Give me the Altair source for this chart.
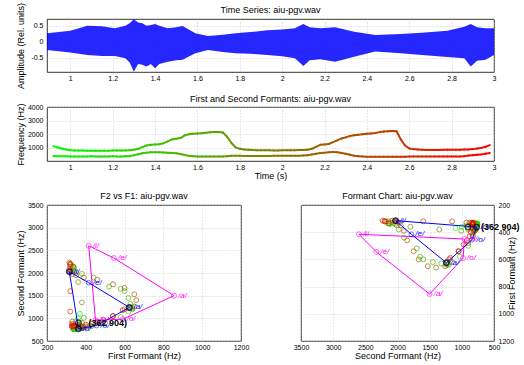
import altair as alt
import pandas as pd

# ---------------- data ----------------
T = [0.92, 0.94, 0.96, 0.98, 1.00, 1.02, 1.04, 1.06, 1.08, 1.10,
     1.12, 1.14, 1.16, 1.18, 1.20, 1.22, 1.24, 1.26, 1.28, 1.30,
     1.32, 1.34, 1.36, 1.38, 1.40, 1.42, 1.44, 1.46, 1.48, 1.50,
     1.52, 1.54, 1.56, 1.58, 1.60, 1.62, 1.64, 1.66, 1.68, 1.70,
     1.72, 1.74, 1.76, 1.78, 1.80, 1.82, 1.84, 1.86, 1.88, 1.90,
     1.92, 1.94, 1.96, 1.98, 2.00, 2.02, 2.04, 2.06, 2.08, 2.10,
     2.12, 2.14, 2.16, 2.18, 2.20, 2.22, 2.24, 2.26, 2.28, 2.30,
     2.32, 2.34, 2.36, 2.38, 2.40, 2.42, 2.44, 2.46, 2.48, 2.50,
     2.52, 2.54, 2.56, 2.58, 2.60, 2.62, 2.64, 2.66, 2.68, 2.70,
     2.72, 2.74, 2.76, 2.78, 2.80, 2.82, 2.84, 2.86, 2.88, 2.90,
     2.92, 2.94, 2.96, 2.98]

F2 = [1100, 1000, 930, 850, 790, 780, 770, 770, 760, 760,
      760, 760, 760, 765, 770, 770, 775, 780, 800, 830,
      900, 1030, 1150, 1200, 1220, 1240, 1320, 1450, 1600, 1650,
      1700, 1900, 1980, 2010, 2030, 2060, 2100, 2130, 2140, 2150,
      2120, 1800, 1350, 1010, 900, 860, 830, 810, 800, 790,
      790, 790, 785, 785, 790, 790, 795, 800, 810, 820,
      830, 900, 1050, 1200, 1230, 1260, 1400, 1530, 1670, 1750,
      1850, 1900, 1950, 1980, 2010, 2040, 2080, 2140, 2180, 2200,
      2230, 2200, 1600, 1150, 930, 880, 850, 830, 820, 820,
      820, 820, 825, 830, 830, 835, 840, 850, 860, 880,
      920, 970, 1050, 1180]

F1 = [370, 360, 350, 345, 340, 340, 335, 340, 340, 345,
      340, 340, 335, 340, 345, 340, 340, 345, 360, 420,
      500, 580, 620, 640, 640, 640, 630, 620, 600, 580,
      520, 440, 380, 350, 340, 335, 330, 335, 335, 335,
      340, 360, 380, 390, 380, 370, 370, 370, 365, 370,
      370, 375, 380, 380, 385, 385, 385, 390, 390, 400,
      430, 480, 540, 600, 620, 650, 660, 650, 600, 540,
      460, 390, 350, 330, 320, 320, 315, 320, 320, 320,
      315, 320, 320, 320, 330, 330, 330, 330, 330, 330,
      340, 340, 340, 340, 340, 340, 340, 360, 400, 430,
      460, 490, 540, 590]

# waveform envelope (upper / lower peaks)
ENV_T = [0.89, 1.00, 1.08, 1.15, 1.21, 1.26, 1.28, 1.30, 1.32, 1.34,
         1.36, 1.38, 1.40, 1.42, 1.46, 1.50, 1.53, 1.59, 1.65, 1.72,
         1.78, 1.85, 1.93, 2.00, 2.06, 2.10, 2.13, 2.18, 2.25, 2.34,
         2.44, 2.56, 2.66, 2.78, 2.86, 2.89, 2.92, 2.96, 3.00]
ENV_HI = [0.26, 0.34, 0.50, 0.48, 0.42, 0.50, 0.58, 0.70, 0.60, 0.58,
          0.50, 0.52, 0.55, 0.50, 0.42, 0.45, 0.49, 0.26, 0.18, 0.22,
          0.26, 0.30, 0.36, 0.38, 0.42, 0.55, 0.45, 0.42, 0.45, 0.31,
          0.21, 0.24, 0.28, 0.34, 0.47, 0.55, 0.45, 0.42, 0.42]
ENV_LO = [-0.26, -0.34, -0.42, -0.45, -0.45, -0.52, -0.65, -0.94, -0.70, -0.72,
          -0.78, -0.70, -0.83, -0.70, -0.63, -0.58, -0.57, -0.36, -0.26, -0.32,
          -0.36, -0.38, -0.42, -0.46, -0.52, -0.76, -0.58, -0.55, -0.63, -0.47,
          -0.31, -0.36, -0.42, -0.48, -0.52, -0.78, -0.60, -0.57, -0.42]

# reference vowel polygon (magenta) and measured polygon (blue)
MAG_LAB = ["/i/", "/e/", "/a/", "/o/", "/u/"]
MAG_F1 = [415, 545, 855, 590, 450]
MAG_F2 = [2600, 2330, 1500, 980, 960]
BLU_LAB = ["/i/", "/e/", "/a/", "/o/", "/u/"]
BLU_F1 = [315, 415, 625, 455, 362]
BLU_F2 = [2030, 1785, 1240, 840, 770]
KEY_F1 = [315, 625, 362, 362]
KEY_F2 = [2030, 1240, 904, 770]
NOTE_LAB = ["(362 904)"]
NOTE_F1 = [362]
NOTE_F2 = [904]

TITLES = ["Time Series: aiu-pgv.wav", "First and Second Formants: aiu-pgv.wav",
          "F2 vs F1: aiu-pgv.wav", "Formant Chart: aiu-pgv.wav"]
TIME_TICKS = [1, 1.2, 1.4, 1.6, 1.8, 2, 2.2, 2.4, 2.6, 2.8, 3]
AMP_TICKS = [-0.5, 0, 0.5]
FREQ_TICKS = [1000, 2000, 3000, 4000]
F1_TICKS = [200, 400, 600, 800, 1000, 1200]
F2_TICKS = [500, 1000, 1500, 2000, 2500, 3000, 3500]

FONT = "Liberation Sans"
cscale = alt.Scale(domain=[0.92, 2.98], range=["#00ff00", "#ff0000"], interpolate="rgb")

# ---------------- tables ----------------
env = pd.DataFrame({"t": ENV_T, "hi": ENV_HI, "lo": ENV_LO})
fm = pd.DataFrame({"t": T, "f1": F1, "f2": F2})

segs = []
for col in ["f1", "f2"]:
    d = pd.DataFrame({"t": fm["t"], "t2": fm["t"].shift(-1),
                      "f": fm[col], "fn": fm[col].shift(-1)})
    d = d.dropna()
    d["tm"] = (d["t"] + d["t2"]) / 2
    segs.append(d)
seg = pd.concat(segs, ignore_index=True)

mag = pd.DataFrame({"lab": MAG_LAB, "f1": MAG_F1, "f2": MAG_F2})
mag_path = pd.concat([mag, mag.iloc[:1]], ignore_index=True)
mag_path["seq"] = range(len(mag_path))
blu = pd.DataFrame({"lab": BLU_LAB, "f1": BLU_F1, "f2": BLU_F2})
blu_path = pd.concat([blu, blu.iloc[:1]], ignore_index=True)
blu_path["seq"] = range(len(blu_path))
key = pd.DataFrame({"f1": KEY_F1, "f2": KEY_F2})
note = pd.DataFrame({"lab": NOTE_LAB, "f1": NOTE_F1, "f2": NOTE_F2})


def yaxis(title, values, fmt="d", orient="left", angle=None):
    kw = dict(title=title, values=values, format=fmt, orient=orient,
              labelPadding=4, titlePadding=3, minExtent=19, maxExtent=19,
              labelExpr="replace(datum.label, '\u2212', '-')")
    if angle is not None:
        kw["titleAngle"] = angle
    return alt.Axis(**kw)


def xaxis(title, values, fmt="d"):
    kw = dict(values=values, format=fmt, labelPadding=2, titlePadding=1,
              minExtent=9, maxExtent=9, labelFlush=False)
    if title is None:
        return alt.Axis(title=None, **kw)
    return alt.Axis(title=title, **kw)


def title_layer(text, width, dy):
    return alt.Chart(pd.DataFrame({"title": [text]})).mark_text(
        font=FONT, fontSize=9, color="black", baseline="middle", align="center"
    ).encode(x=alt.value(width / 2), y=alt.value(dy), text="title:N")


tscale = alt.Scale(domain=[0.89, 3.0], nice=False, zero=False)

# ---------------- panel 1: waveform ----------------
wave = alt.Chart(env).mark_area(color="#0000ff", opacity=0.85, interpolate="linear").encode(
    x=alt.X("t:Q", scale=tscale, axis=xaxis(None, TIME_TICKS, ".1~f")),
    y=alt.Y("hi:Q", scale=alt.Scale(domain=[-0.95, 0.71], nice=False, zero=False),
            axis=yaxis("Amplitude (Rel. units)", AMP_TICKS, "~g")),
    y2="lo:Q",
)
p1 = alt.layer(wave, title_layer(TITLES[0], 447, -9)).properties(width=447, height=53)

# ---------------- panel 2: formant tracks ----------------
tracks = alt.Chart(seg).mark_rule(strokeWidth=2, strokeCap="round").encode(
    x=alt.X("t:Q", scale=tscale, axis=xaxis("Time (s)", TIME_TICKS, ".1~f")),
    x2="t2:Q",
    y=alt.Y("f:Q", scale=alt.Scale(domain=[0, 4000], nice=False),
            axis=yaxis("Frequency (Hz)", FREQ_TICKS)),
    y2="fn:Q",
    color=alt.Color("tm:Q", scale=cscale, legend=None),
)
p2 = alt.layer(tracks, title_layer(TITLES[1], 447, -8)).properties(width=447, height=54)


def vowel_panel(X, Y, title, note_dx, width):
    scatter = alt.Chart(fm).mark_point(filled=False, size=24, strokeWidth=1, clip=True).encode(
        x=X, y=Y, color=alt.Color("t:Q", scale=cscale, legend=None))
    mline = alt.Chart(mag_path).mark_line(color="#ff00ff", strokeWidth=1, clip=True).encode(
        x=X, y=Y, order=alt.Order("seq:Q"))
    mpts = alt.Chart(mag).mark_point(filled=False, color="#ff00ff", size=25, strokeWidth=0.8).encode(x=X, y=Y)
    mtxt = alt.Chart(mag).mark_text(color="#ff00ff", align="left", dx=4, fontSize=8,
                                    fontStyle="italic", font=FONT).encode(x=X, y=Y, text="lab:N")
    bline = alt.Chart(blu_path).mark_line(color="#0000ff", strokeWidth=1, clip=True).encode(
        x=X, y=Y, order=alt.Order("seq:Q"))
    bpts = alt.Chart(blu).mark_point(filled=False, color="#0000ff", size=22, strokeWidth=0.8).encode(x=X, y=Y)
    btxt = alt.Chart(blu).mark_text(color="#0000ff", align="left", dx=4, fontSize=8,
                                    fontStyle="italic", font=FONT).encode(x=X, y=Y, text="lab:N")
    kpts = alt.Chart(key).mark_point(filled=False, color="black", size=32, strokeWidth=1.3).encode(x=X, y=Y)
    ntxt = alt.Chart(note).mark_text(color="black", align="left", dx=note_dx, fontSize=9,
                                     fontWeight="bold", font=FONT).encode(x=X, y=Y, text="lab:N")
    return alt.layer(scatter, mline, bline, mpts, bpts, kpts, mtxt, btxt, ntxt,
                     title_layer(title, width, -9)).properties(width=width, height=136)


X3 = alt.X("f1:Q", scale=alt.Scale(domain=[200, 1200], nice=False, zero=False),
           axis=xaxis("First Formant (Hz)", F1_TICKS))
Y3 = alt.Y("f2:Q", scale=alt.Scale(domain=[500, 3500], nice=False, zero=False),
           axis=yaxis("Second Formant (Hz)", F2_TICKS))
p3 = vowel_panel(X3, Y3, TITLES[2], 10, 194)

X4 = alt.X("f2:Q", scale=alt.Scale(domain=[500, 3500], nice=False, zero=False, reverse=True),
           axis=xaxis("Second Formant (Hz)", F2_TICKS))
Y4 = alt.Y("f1:Q", scale=alt.Scale(domain=[200, 1200], nice=False, zero=False, reverse=True),
           axis=yaxis("First Formant (Hz)", F1_TICKS, orient="right", angle=270))
p4 = vowel_panel(X4, Y4, TITLES[3], 13, 193)

top = alt.vconcat(p1, p2, spacing=5)
bottom = alt.hconcat(p3, p4, spacing=42)

chart = alt.vconcat(top, bottom, spacing=10).properties(
    padding={"left": 15, "top": 2, "right": 0, "bottom": 0}
).configure(
    font=FONT
).configure_view(
    stroke="black", strokeWidth=0.8
).configure_axis(
    labelFont=FONT, labelFontSize=7, labelColor="black",
    titleFont=FONT, titleFontSize=9, titleFontWeight="normal", titleColor="black",
    grid=True, gridColor="#bdbdbd", gridDash=[1, 2], gridWidth=0.7,
    domain=False, ticks=False, tickSize=0,
)

chart.save("out.html", embed_options={"renderer": "svg", "actions": False})
